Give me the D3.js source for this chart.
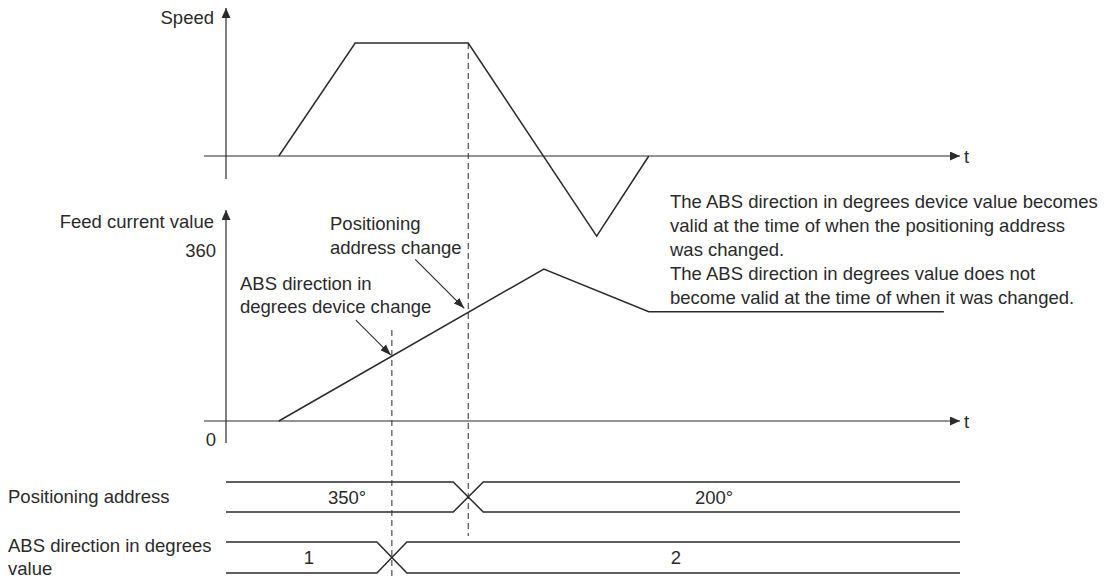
<!DOCTYPE html>
<html>
<head>
<meta charset="utf-8">
<script src="https://cdn.jsdelivr.net/npm/d3@7"></script>
<style>
  html, body { margin: 0; padding: 0; background: #fff; }
  svg text { font-family: "Liberation Sans", Arial, Helvetica, sans-serif; fill: #2b2b2b; }
</style>
</head>
<body>
<svg id="chart" width="1106" height="583"></svg>
<script>
// ---------- data ----------
const timeDomain = [0, 100];

const speedTimes  = [7.2, 17.6, 33.0, 50.5, 57.6];
const speedValues = [0, 1, 1, -0.71, 0];

const feedTimes  = [7.2, 43.3, 57.6, 97.8];
const feedValues = [0, 320, 230, 230];
const feedTicks  = [0, 360];

const absChangeTime = 22.6;
const posChangeTime = 33.0;

const posAddrValues = ["350°", "200°"];
const absDegValues  = ["1", "2"];

const axisLabels = { speed: "Speed", feed: "Feed current value", time: "t" };
const rowLabels  = [["Positioning address"], ["ABS direction in degrees", "value"]];
const posNote = ["Positioning", "address change"];
const absNote = ["ABS direction in", "degrees device change"];
const sideNote = [
  "The ABS direction in degrees device value becomes",
  "valid at the time of when the positioning address",
  "was changed.",
  "The ABS direction in degrees value does not",
  "become valid at the time of when it was changed."
];

// ---------- layout ----------
const svg = d3.select("#chart");
const ink = "#2b2b2b";
const FS = 18.5;
const x = d3.scaleLinear().domain(timeDomain).range([226, 960]);
const ySpeed = d3.scaleLinear().domain([-1, 1]).range([269, 43]);
const yFeed = d3.scaleLinear().domain([0, 360]).range([421, 250]);

const defs = svg.append("defs");
function marker(id, len, wid) {
  defs.append("marker").attr("id", id)
    .attr("markerUnits", "userSpaceOnUse")
    .attr("viewBox", `0 ${-wid/2} ${len} ${wid}`)
    .attr("refX", len).attr("refY", 0)
    .attr("markerWidth", len).attr("markerHeight", wid)
    .attr("orient", "auto")
    .append("path").attr("d", `M0,${-wid/2}L${len},0L0,${wid/2}Z`).attr("fill", ink);
}
marker("axisArrow", 10, 9);
marker("noteArrow", 11, 8);

const g = svg.append("g");
const line = d3.line();

// ---------- axes ----------
function hAxis(y0) {
  g.append("line").attr("x1", x(-3)).attr("x2", x(100)).attr("y1", y0).attr("y2", y0)
    .attr("stroke", ink).attr("stroke-width", 1.2).attr("marker-end", "url(#axisArrow)");
  g.append("text").attr("x", x(100) + 4).attr("y", y0 + 6.5).attr("font-size", FS).text(axisLabels.time);
}
function vAxis(yBottom, yTop) {
  g.append("line").attr("x1", x(0)).attr("x2", x(0)).attr("y1", yBottom).attr("y2", yTop)
    .attr("stroke", ink).attr("stroke-width", 1.2).attr("marker-end", "url(#axisArrow)");
}
vAxis(179, 8);
hAxis(ySpeed(0));
g.append("text").attr("x", 214).attr("y", 24).attr("text-anchor", "end").attr("font-size", FS).text(axisLabels.speed);

vAxis(443, 210);
hAxis(yFeed(0));
g.append("text").attr("x", 214).attr("y", 228).attr("text-anchor", "end").attr("font-size", FS).text(axisLabels.feed);
g.selectAll(".ftick").data(feedTicks).enter().append("text")
  .attr("x", 216).attr("text-anchor", "end").attr("font-size", FS)
  .attr("y", d => d === 0 ? yFeed(0) + 25 : yFeed(d) + 6.5)
  .text(d => d);

// ---------- dashed change lines ----------
g.append("line").attr("x1", x(posChangeTime)).attr("x2", x(posChangeTime))
  .attr("y1", ySpeed(1)).attr("y2", 536)
  .attr("stroke", ink).attr("stroke-width", 1).attr("stroke-dasharray", "6,4");
g.append("line").attr("x1", x(absChangeTime)).attr("x2", x(absChangeTime))
  .attr("y1", 330).attr("y2", 578)
  .attr("stroke", ink).attr("stroke-width", 1).attr("stroke-dasharray", "6,4");

// ---------- speed trace ----------
g.append("path")
  .attr("d", line(speedTimes.map((t, i) => [x(t), ySpeed(speedValues[i])])))
  .attr("fill", "none").attr("stroke", ink).attr("stroke-width", 1.5).attr("stroke-linejoin", "miter");

// ---------- feed trace ----------
g.append("path")
  .attr("d", line(feedTimes.map((t, i) => [x(t), yFeed(feedValues[i])])))
  .attr("fill", "none").attr("stroke", ink).attr("stroke-width", 1.5);

const feedAt = d3.scaleLinear().domain(feedTimes).range(feedValues);

// ---------- annotations ----------
function noteArrow(t, len, off) {
  const tx = x(t) - off, ty = yFeed(feedAt(t)) - off;
  g.append("line").attr("x1", tx - len).attr("y1", ty - len).attr("x2", tx).attr("y2", ty)
    .attr("stroke", ink).attr("stroke-width", 1.1).attr("marker-end", "url(#noteArrow)");
}
noteArrow(posChangeTime, 49, 4);
noteArrow(absChangeTime, 35, 1);

function multiText(lines, x0, y0, dy, anchor) {
  const t = g.append("text").attr("font-size", FS).attr("text-anchor", anchor || "start");
  lines.forEach((s, i) => t.append("tspan").attr("x", x0).attr("y", y0 + i * dy).text(s));
}
multiText(posNote, 330, 230, 23.5);
multiText(absNote, 240, 290, 23);
multiText(sideNote, 670, 208, 24);

// ---------- timing rows ----------
const rows = [
  { top: 482, bot: 512, change: posChangeTime, values: posAddrValues, label: rowLabels[0], ly: 503 },
  { top: 542, bot: 573, change: absChangeTime, values: absDegValues, label: rowLabels[1], ly: 552 }
];
const half = 15 / (x(1) - x(0)); // transition half-width in time units
rows.forEach(r => {
  const xl = x(r.change - half), xr = x(r.change + half), mid = (r.top + r.bot) / 2;
  const st = { fill: "none", stroke: ink, "stroke-width": 1.5 };
  const p1 = g.append("path").attr("d", line([[x(0), r.top], [xl, r.top], [xr, r.bot], [x(100), r.bot]]));
  const p2 = g.append("path").attr("d", line([[x(0), r.bot], [xl, r.bot], [xr, r.top], [x(100), r.top]]));
  [p1, p2].forEach(p => Object.entries(st).forEach(([k, v]) => p.attr(k, v)));
  g.append("text").attr("x", x(r.change / 2)).attr("y", mid + 6.5).attr("text-anchor", "middle")
    .attr("font-size", FS).text(r.values[0]);
  g.append("text").attr("x", x((r.change + 100) / 2)).attr("y", mid + 6.5).attr("text-anchor", "middle")
    .attr("font-size", FS).text(r.values[1]);
  multiText(r.label, 8, r.ly, 23);
});
</script>
</body>
</html>
